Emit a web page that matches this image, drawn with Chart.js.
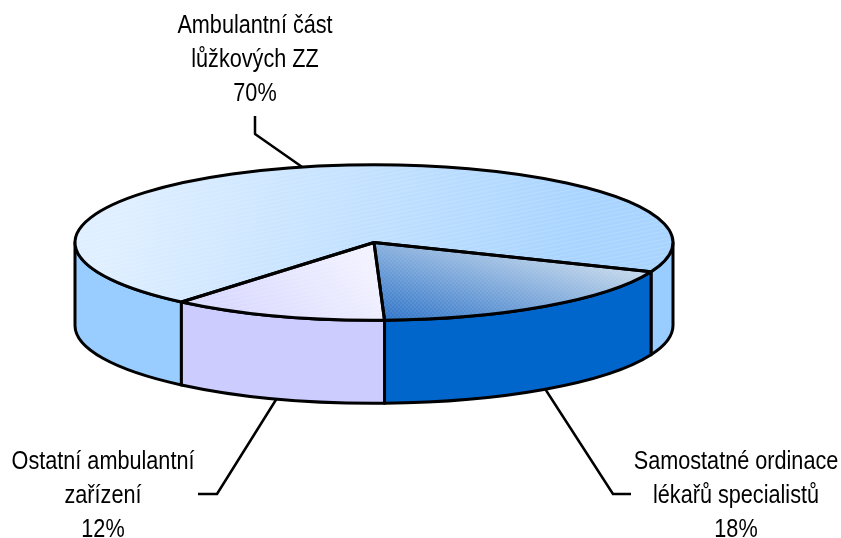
<!DOCTYPE html>
<html>
<head>
<meta charset="utf-8">
<script src="https://cdn.jsdelivr.net/npm/chart.js@4"></script>
<style>
html, body { margin: 0; padding: 0; background: #fff; }
#wrap { width: 841px; height: 538px; }
</style>
</head>
<body>
<div id="wrap"><canvas id="pie" width="841" height="538"></canvas></div>
<script>
var categories = [['Ambulantní část', 'lůžkových ZZ'], ['Samostatné ordinace', 'lékařů specialistů'], ['Ostatní ambulantní', 'zařízení']];
var shares = [70, 18.3, 11.7];
var sideColors = ['#99ccff', '#0066cc', '#ccccff'];

var tilt = 0.26;
var depth = 83;
var labelFont = '25px "Liberation Sans", sans-serif';
var labelSqueeze = 0.866;

// label centre x, first baseline, then elbow of the leader line and its free end
var labelSpots = [
    { x: 255, y: 33, elbow: [255, 134], end: [255, 116] },
    { x: 736, y: 469, elbow: [613, 494], end: [631, 494] },
    { x: 103, y: 469, elbow: [217, 494], end: [198, 494] }
];

// gradient for a top face, end points given as they look on screen.
// the face gets squashed afterwards so the vector is worked back through that
function flatGradient(chart, x0, y0, x1, y1, stops) {
    var a = chart.chartArea;
    var cy = (a.top + a.bottom) / 2;
    var dx = x1 - x0, dy = y1 - y0;
    var vy = tilt * dy;
    var c = (dx * dx + dy * dy) / (dx * dx + vy * vy);
    var qy = cy + (y0 - cy) / tilt;
    var g = chart.ctx.createLinearGradient(x0, qy, x0 + dx * c, qy + vy * c);
    stops.forEach(function (s, i) { g.addColorStop(i / (stops.length - 1), s); });
    return g;
}

function topColor(c) {
    if (!c.chart.chartArea) return sideColors[c.dataIndex];
    if (c.dataIndex === 0) return flatGradient(c.chart, 130, 170, 560, 300, ['#dfefff', '#a8d4ff']);
    if (c.dataIndex === 1) return flatGradient(c.chart, 390, 322, 424, 207, ['#2f74c8', '#c6d9ec']);
    return flatGradient(c.chart, 240, 320, 340, 230, ['#dadaff', '#f2f2ff']);
}

// faint fabric texture that the top faces have
function makeTexture(ctx, dense) {
    var t = document.createElement('canvas');
    if (dense) {
        t.width = t.height = 4;
        var d = t.getContext('2d');
        d.fillStyle = 'rgba(255,255,255,0.07)';
        d.fillRect(0, 0, 2, 2);
        d.fillRect(2, 2, 2, 2);
    } else {
        t.width = 40; t.height = 8;
        var e = t.getContext('2d');
        e.strokeStyle = 'rgba(255,255,255,0.16)';
        e.lineWidth = 1;
        e.beginPath();
        e.moveTo(0, 4); e.lineTo(40, -4);
        e.moveTo(0, 8); e.lineTo(40, 0);
        e.moveTo(0, 12); e.lineTo(40, 4);
        e.stroke();
    }
    return ctx.createPattern(t, 'repeat');
}

function squash(ctx, arc) {
    ctx.translate(0, arc.y);
    ctx.scale(1, tilt);
    ctx.translate(0, -arc.y);
}

var pie3d = {
    id: 'pie3d',
    beforeDatasetsDraw: function (chart) {
        var ctx = chart.ctx;
        var arcs = chart.getDatasetMeta(0).data;
        ctx.save();
        ctx.lineWidth = 3;
        ctx.strokeStyle = '#000';
        ctx.lineJoin = 'round';
        // side walls, only the part of each slice that faces front
        arcs.forEach(function (arc, i) {
            for (var n = -1; n <= 1; n++) {
                var lo = Math.max(arc.startAngle + n * 2 * Math.PI, 0);
                var hi = Math.min(arc.endAngle + n * 2 * Math.PI, Math.PI);
                if (hi <= lo) continue;
                var r = arc.outerRadius;
                ctx.beginPath();
                ctx.ellipse(arc.x, arc.y, r, r * tilt, 0, lo, hi);
                ctx.ellipse(arc.x, arc.y + depth, r, r * tilt, 0, hi, lo, true);
                ctx.closePath();
                ctx.fillStyle = sideColors[i];
                ctx.fill();
                ctx.stroke();
            }
        });
        ctx.restore();
        ctx.save();
        squash(ctx, arcs[0]);
    },
    afterDatasetsDraw: function (chart) {
        var ctx = chart.ctx;
        var arcs = chart.getDatasetMeta(0).data;
        ctx.restore();
        ctx.save();
        // outline built under the squash but stroked without it, keeps the pen even
        arcs.forEach(function (arc, i) {
            ctx.save();
            squash(ctx, arc);
            ctx.beginPath();
            ctx.moveTo(arc.x, arc.y);
            ctx.arc(arc.x, arc.y, arc.outerRadius, arc.startAngle, arc.endAngle);
            ctx.closePath();
            ctx.restore();
            ctx.fillStyle = makeTexture(ctx, i === 1);
            ctx.fill();
            ctx.lineWidth = 3;
            ctx.strokeStyle = '#000';
            ctx.lineJoin = 'round';
            ctx.stroke();
        });
        // leader lines and labels
        arcs.forEach(function (arc, i) {
            var spot = labelSpots[i];
            var mid = (arc.startAngle + arc.endAngle) / 2;
            var s = Math.sin(mid);
            var ax = arc.x + arc.outerRadius * Math.cos(mid);
            var ay = arc.y + arc.outerRadius * tilt * s + (s > 0 ? depth : 0);
            ctx.beginPath();
            ctx.moveTo(ax, ay);
            ctx.lineTo(spot.elbow[0], spot.elbow[1]);
            ctx.lineTo(spot.end[0], spot.end[1]);
            ctx.lineWidth = 2.5;
            ctx.strokeStyle = '#000';
            ctx.stroke();

            ctx.font = labelFont;
            ctx.fillStyle = '#000';
            ctx.textAlign = 'center';
            var lines = categories[i].concat(Math.round(shares[i]) + '%');
            lines.forEach(function (t, j) {
                ctx.save();
                ctx.translate(spot.x, spot.y + j * 34);
                ctx.scale(labelSqueeze, 1);
                ctx.fillText(t, 0, 0);
                ctx.restore();
            });
        });
        ctx.restore();
    }
};

function init() {
    new Chart(document.getElementById('pie'), {
        type: 'pie',
        data: {
            labels: categories.map(function (c) { return c.join(' '); }),
            datasets: [{
                data: shares,
                backgroundColor: topColor,
                borderWidth: 0,
                clip: false
            }]
        },
        options: {
            responsive: false,
            animation: false,
            radius: 299,
            rotation: -139.9,
            layout: { padding: { right: 93, bottom: 53 } },
            plugins: { legend: { display: false }, tooltip: { enabled: false } }
        },
        plugins: [pie3d]
    });
}

window.onload = init;
</script>
</body>
</html>
